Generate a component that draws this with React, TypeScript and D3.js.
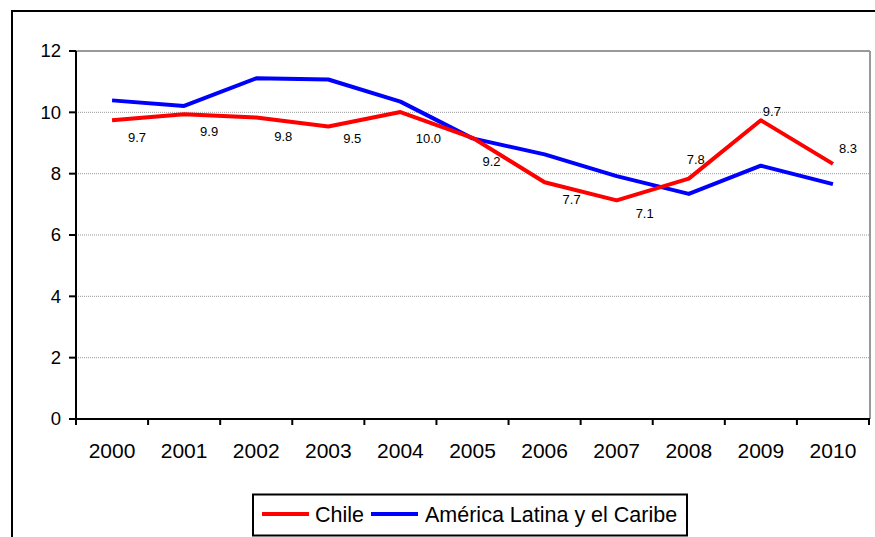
import React from "react";
import * as d3 from "d3";

const years = ["2000","2001","2002","2003","2004","2005","2006","2007","2008","2009","2010"];
const chile = [9.74, 9.94, 9.83, 9.54, 10.01, 9.17, 7.72, 7.13, 7.84, 9.74, 8.32];
const latam = [10.39, 10.21, 11.11, 11.07, 10.35, 9.15, 8.63, 7.92, 7.34, 8.26, 7.66];
const yTicks = [0, 2, 4, 6, 8, 10, 12];
const seriesNames = ["Chile", "América Latina y el Caribe"];
// label offsets (dx, dy) relative to point
const labelOffsets: [number, number][] = [
  [25, 17], [25, 17], [27, 19], [24, 12], [28, 26], [19, 24], [27, 17], [28, 13], [7, -19], [11, -9], [15, -15],
];

const W = 875, H = 537;
const left = 76, right = 869, top = 51, bottom = 419;

export default function App() {
  const x = d3.scaleBand<string>().domain(years).range([left, right]);
  const y = d3.scaleLinear().domain([0, 12]).range([bottom, top]);
  const line = d3.line<number>().x((_, i) => x(years[i])! + x.bandwidth() / 2).y((d) => y(d));
  const font = "'Liberation Sans', Arial, sans-serif";
  const fmt = d3.format(".1f");
  return (
    <svg width={W} height={H} style={{ position: "absolute", left: 0, top: 0, fontFamily: font }}>
      <rect x={0} y={0} width={W} height={H} fill="#fff" />
      {/* outer border */}
      <line x1={11} y1={11} x2={W} y2={11} stroke="#000" strokeWidth={2} />
      <line x1={12} y1={10} x2={12} y2={H} stroke="#000" strokeWidth={2} />
      {/* gridlines */}
      {yTicks.filter((t) => t > 0 && t < 12).map((t) => (
        <line key={t} x1={left} x2={right} y1={y(t)} y2={y(t)} stroke="#999" strokeWidth={1} strokeDasharray="1,1" />
      ))}
      {/* plot top and right border */}
      <line x1={left} x2={right + 1} y1={y(12)} y2={y(12)} stroke="#999" strokeWidth={2} />
      <line x1={right + 1} x2={right + 1} y1={y(12)} y2={bottom} stroke="#999" strokeWidth={2} />
      {/* y axis */}
      <line x1={left} x2={left} y1={top} y2={bottom} stroke="#000" strokeWidth={2} />
      {yTicks.map((t) => (
        <g key={t}>
          <line x1={left - 7} x2={left} y1={y(t)} y2={y(t)} stroke="#000" strokeWidth={2} />
          <text x={61} y={y(t)} dy="0.35em" textAnchor="end" fontSize={18.5} fill="#000">{t}</text>
        </g>
      ))}
      {/* x axis */}
      <line x1={left} x2={right + 1} y1={bottom} y2={bottom} stroke="#000" strokeWidth={2} />
      {years.concat(["end"]).map((yr, i) => {
        const xx = i < years.length ? x(yr)! : right;
        return <line key={yr} x1={xx} x2={xx} y1={bottom} y2={bottom + 6} stroke="#000" strokeWidth={2} />;
      })}
      {years.map((yr) => (
        <text key={yr} x={x(yr)! + x.bandwidth() / 2} y={458} textAnchor="middle" fontSize={21} fill="#000">{yr}</text>
      ))}
      {/* lines */}
      <path d={line(latam)!} fill="none" stroke="#0000ff" strokeWidth={4} strokeLinejoin="round" />
      <path d={line(chile)!} fill="none" stroke="#ff0000" strokeWidth={4} strokeLinejoin="round" />
      {/* data labels */}
      {chile.map((v, i) => (
        <text key={i} x={x(years[i])! + x.bandwidth() / 2 + labelOffsets[i][0]} y={y(v) + labelOffsets[i][1]} dy="0.35em" textAnchor="middle" fontSize={13} fill="#000">{fmt(v)}</text>
      ))}
      {/* legend */}
      <rect x={253} y={494.5} width={434} height={41} fill="#fff" stroke="#000" strokeWidth={2} />
      <line x1={262} x2={309} y1={514} y2={514} stroke="#ff0000" strokeWidth={4} />
      <text x={315} y={514} dy="0.35em" fontSize={21.5} fill="#000">{seriesNames[0]}</text>
      <line x1={371} x2={418} y1={514} y2={514} stroke="#0000ff" strokeWidth={4} />
      <text x={425} y={514} dy="0.35em" fontSize={21.5} fill="#000">{seriesNames[1]}</text>
    </svg>
  );
}
